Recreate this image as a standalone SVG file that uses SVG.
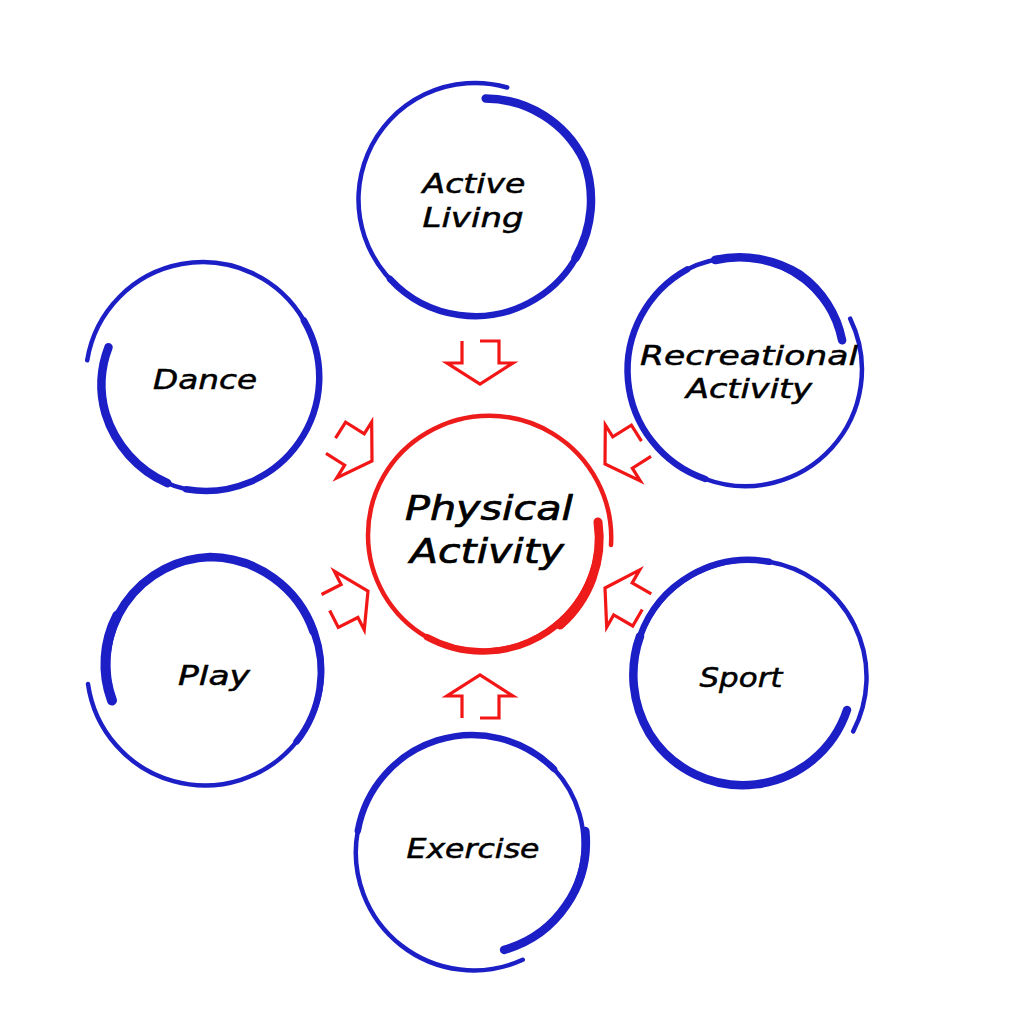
<svg xmlns="http://www.w3.org/2000/svg" width="1014" height="1023" viewBox="0 0 1014 1023">
<style>
.bg{fill:#ffffff}
.ring{fill:none;stroke:#1c1fc6;stroke-linecap:round;stroke-width:4.5}
.ring.mid{stroke-width:6.5}
.ring.thick{stroke-width:8.5}
.ring.xthick{stroke-width:10}
.hub{fill:none;stroke:#ee1b1b;stroke-linecap:round;stroke-width:4.5}
.hub.mid{stroke-width:6.5}
.hub.thick{stroke-width:9}
.arw{fill:none;stroke:#f21616;stroke-width:3.2;stroke-linejoin:miter;stroke-linecap:butt}
.lbl{font-family:"DejaVu Sans","Liberation Sans",sans-serif;font-style:italic;font-size:26px;fill:#000000;stroke:#000000;stroke-width:0.5;text-anchor:middle}
.big{font-size:34px;stroke-width:0.7}
</style>
<defs>
<path id="arrow" class="arw" d="M -43,18 L -21,18 L -21,33 L 0,0 L -21,-33 L -21,-19 L -43,-19 L -43,0"/>
</defs>
<rect class="bg" x="0" y="0" width="1014" height="1023"/>

<g id="connectors">
<use href="#arrow" transform="translate(480,384) rotate(90)"/>
<use href="#arrow" transform="translate(372,461) rotate(32)"/>
<use href="#arrow" transform="translate(605,464) rotate(148) scale(1,-1)"/>
<use href="#arrow" transform="translate(368,591) rotate(-27) scale(1,-1)"/>
<use href="#arrow" transform="translate(605,588) rotate(-150)"/>
<use href="#arrow" transform="translate(480,675) rotate(-90) scale(1,-1)"/>
</g>

<g id="physical-activity">
<path class="hub" d="M 598 522 A 117 117 0 0 1 427 637.2 A 118 118 0 0 1 427 432.8 A 122 122 0 0 1 611 545"/>
<path class="hub mid" d="M 598 522 A 116 116 0 0 1 427 637.2"/>
<path class="hub thick" d="M 598 522 A 115 115 0 0 1 560 625"/>
<text class="lbl big" x="489" y="520" textLength="168" lengthAdjust="spacingAndGlyphs">Physical</text>
<text class="lbl big" x="487" y="563" textLength="154" lengthAdjust="spacingAndGlyphs">Activity</text>
</g>

<g id="active-living">
<path class="ring" d="M 507.2 87.5 A 116.5 116.5 0 0 0 417 300.5 A 116 116 0 0 0 584 160.3 A 110 110 0 0 0 485.7 98.6"/>
<path class="ring mid" d="M 390 279 A 116 116 0 0 0 584 160.3"/>
<path class="ring thick" d="M 575.5 258 A 116 116 0 0 0 584 160.3 A 110 110 0 0 0 485.7 98.6"/>
<text class="lbl" x="474" y="193" textLength="103" lengthAdjust="spacingAndGlyphs">Active</text>
<text class="lbl" x="473" y="227" textLength="101" lengthAdjust="spacingAndGlyphs">Living</text>
</g>

<g id="dance">
<path class="ring" d="M 87.2 360.3 A 117 117 0 0 1 303.9 320.5 A 113.5 113.5 0 0 1 186.2 489.3 A 108 108 0 0 1 108.5 347.2"/>
<path class="ring mid" d="M 303.9 320.5 A 113.5 113.5 0 0 1 186.2 489.3"/>
<path class="ring thick" d="M 167.4 483.2 A 112 112 0 0 1 105.5 413.6 A 105 105 0 0 1 108.5 347.2"/>
<text class="lbl" x="205" y="389" textLength="104" lengthAdjust="spacingAndGlyphs">Dance</text>
</g>

<g id="recreational-activity">
<path class="ring" d="M 850.2 318.7 A 116.5 116.5 0 0 1 705.3 479 A 115 115 0 0 1 687 269.5 A 109 109 0 0 1 842.1 340.3"/>
<path class="ring mid" d="M 705.3 479 A 115 115 0 0 1 687 269.5"/>
<path class="ring thick" d="M 715 260 A 114 114 0 0 1 800 274.7 A 106 106 0 0 1 842.1 340.3"/>
<text class="lbl" x="749" y="365" textLength="218" lengthAdjust="spacingAndGlyphs">Recreational</text>
<text class="lbl" x="749" y="398" textLength="126" lengthAdjust="spacingAndGlyphs">Activity</text>
</g>

<g id="play">
<path class="ring" d="M 88 684 A 118 118 0 0 0 296.6 741.6 A 113 113 0 0 0 210 557 A 108 108 0 0 0 112 700.5"/>
<path class="ring mid" d="M 296.6 741.6 A 113 113 0 0 0 313.4 631.4"/>
<path class="ring thick" d="M 313.4 631.4 A 111 111 0 0 0 210 557 A 108 108 0 0 0 112 700.5"/>
<path class="ring xthick" d="M 117.3 615.5 A 105 105 0 0 0 112 700.5"/>
<text class="lbl" x="214" y="685" textLength="72" lengthAdjust="spacingAndGlyphs">Play</text>
</g>

<g id="sport">
<path class="ring" d="M 847 710 A 110 110 0 0 1 649.4 733.5 A 115.5 115.5 0 0 1 769.1 561.8 A 117 117 0 0 1 853.2 731.4"/>
<path class="ring mid" d="M 640 636.3 A 115 115 0 0 1 769.1 561.8"/>
<path class="ring thick" d="M 847 710 A 110 110 0 0 1 649.4 733.5 A 115 115 0 0 1 640 636.3"/>
<text class="lbl" x="741" y="687" textLength="83" lengthAdjust="spacingAndGlyphs">Sport</text>
</g>

<g id="exercise">
<path class="ring" d="M 522.7 959.8 A 118 118 0 0 1 357.8 830.9 A 116 116 0 0 1 554 769 A 110 110 0 0 1 504.1 949.9"/>
<path class="ring mid" d="M 357.8 830.9 A 116 116 0 0 1 554 769"/>
<path class="ring thick" d="M 585.3 831 A 112 112 0 0 1 504.1 949.9"/>
<text class="lbl" x="473" y="858" textLength="133" lengthAdjust="spacingAndGlyphs">Exercise</text>
</g>
</svg>
